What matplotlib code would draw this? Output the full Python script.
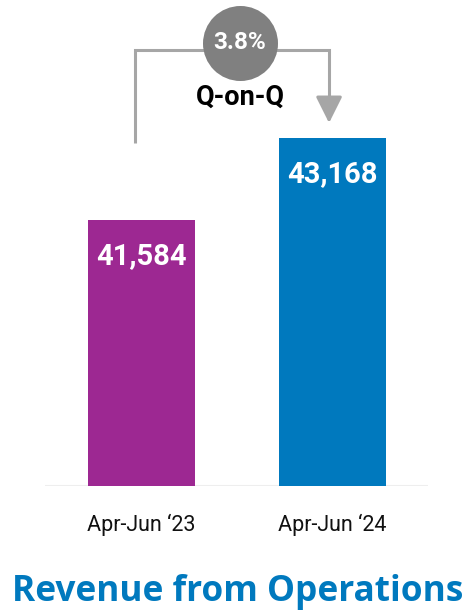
import matplotlib
matplotlib.use("Agg")
import matplotlib.pyplot as plt

categories = ["Apr-Jun \u201823", "Apr-Jun \u201824"]
values = [41584, 43168]
value_labels = ["41,584", "43,168"]
growth_label = "3.8%"
growth_caption = "Q-on-Q"
title = "Revenue from Operations"
colors = ["#9D2892", "#0079BE"]

W, H, DPI = 468, 611, 100
fig = plt.figure(figsize=(W / DPI, H / DPI), dpi=DPI)
fig.patch.set_facecolor("white")

# axes spans pixels x 45..428, y 0..486 (from top)
ax = fig.add_axes([45 / W, (H - 486) / H, (428 - 45) / W, 486 / H])
ax.set_xlim(-0.505, 1.5)
ax.set_ylim(36457, 45828)
for s in ax.spines.values():
    s.set_visible(False)
ax.set_yticks([])

x = list(range(len(values)))
ax.bar(x, values, width=0.56, color=colors, zorder=2)
ax.axhline(36457, color="#EEEEEE", lw=2.2, zorder=1)

ax.set_xticks(x)
ax.set_xticklabels(categories, fontsize=15.5, family=["Roboto", "DejaVu Sans"], color="#111111")
ax.tick_params(axis="x", length=0, pad=20)

for xi, v, lab in zip(x, values, value_labels):
    ax.text(xi, v - 700, lab, ha="center", va="center", color="white",
            fontsize=21, fontweight="bold", family="Roboto", zorder=3)

# bracket
gray = "#A6A6A6"
xl, xr = x[0] - 0.034, x[1] - 0.018
y_bracket = 44864
y_left_start = values[0] + 1487
y_tip = values[1] + 289
ax.plot([xl, xl, xr, xr], [y_left_start, y_bracket, y_bracket, y_tip + 330],
        color=gray, lw=2.2, solid_capstyle="butt", solid_joinstyle="miter", zorder=1)
ax.annotate("", xy=(xr, y_tip), xytext=(xr, y_tip + 340),
            arrowprops=dict(arrowstyle="-|>,head_length=0.9,head_width=0.45",
                            color=gray, lw=2.2, shrinkA=0, shrinkB=0,
                            mutation_scale=18))

# circle with growth
cx = 0.516
cy = 45000
ax.plot([cx], [cy], marker="o", markersize=54, color="#808080",
        markeredgewidth=0, zorder=4, clip_on=False)
ax.text(cx, cy, growth_label, ha="center", va="center", color="white",
        fontsize=17.5, fontweight="bold", family="Roboto", zorder=5)
ax.text(cx, 43960, growth_caption, ha="center", va="center", color="black",
        fontsize=19.5, fontweight="bold", family="Roboto", zorder=5)

fig.text(0.507, 1 - 592 / H, title, ha="center", va="center", color="#0079BE",
         fontsize=25.4, fontweight="bold", family="Open Sans")

fig.savefig("out.png", dpi=DPI, facecolor="white")
